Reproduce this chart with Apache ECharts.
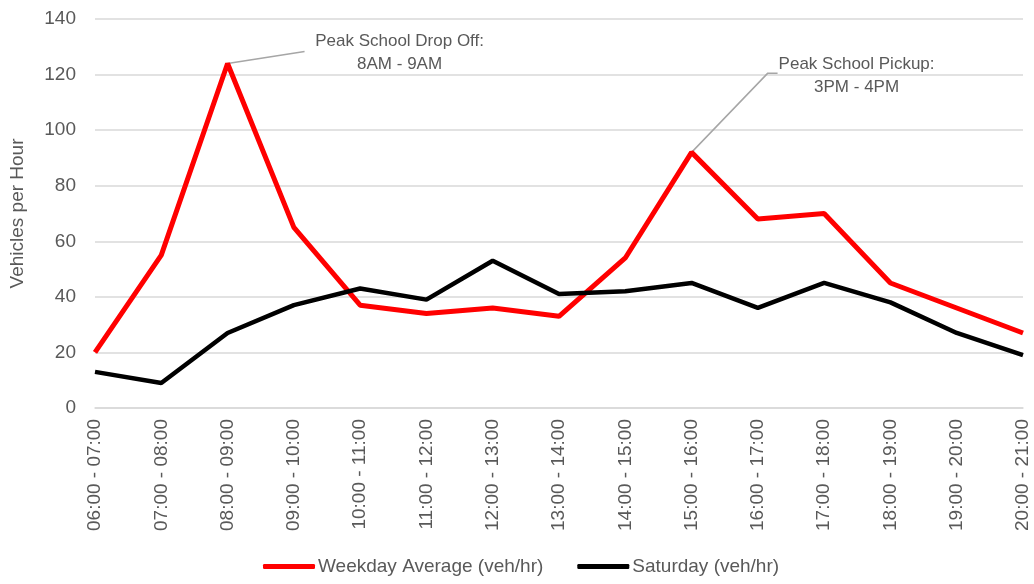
<!DOCTYPE html>
<html>
<head>
<meta charset="utf-8">
<script src="https://cdn.jsdelivr.net/npm/echarts@6/dist/echarts.min.js"></script>
<style>
  html, body { margin: 0; padding: 0; background: #fff; }
  #chart { width: 1034px; height: 584px; }
</style>
</head>
<body>
<div id="chart"></div>
<script>
const hours = [
  "06:00 - 07:00", "07:00 - 08:00", "08:00 - 09:00", "09:00 - 10:00", "10:00 - 11:00",
  "11:00 - 12:00", "12:00 - 13:00", "13:00 - 14:00", "14:00 - 15:00", "15:00 - 16:00",
  "16:00 - 17:00", "17:00 - 18:00", "18:00 - 19:00", "19:00 - 20:00", "20:00 - 21:00"
];
const weekday = [20, 55, 124, 65, 37, 34, 36, 33, 54, 92, 68, 70, 45, 36, 27];
const saturday = [13, 9, 27, 37, 43, 39, 53, 41, 42, 45, 36, 45, 38, 27, 19];
const yTicks = { min: 0, max: 140, step: 20 };

// callouts: which point they hang off, and the text
const callouts = [
  { index: 2, text: "Peak School Drop Off:\n8AM - 9AM" },
  { index: 9, text: "Peak School Pickup:\n3PM - 4PM" }
];

const font = '"Liberation Sans Narrow", "Arial Narrow", "Liberation Sans", sans-serif';
const grey = "#595959";

const chart = echarts.init(document.getElementById("chart"));

chart.setOption({
  animation: false,
  textStyle: { fontFamily: font },
  grid: { left: 92, right: 11, top: 19, bottom: 176 },
  legend: {
    bottom: 3,
    left: 258,
    itemGap: 34,
    itemWidth: 52,
    itemHeight: 5,
    icon: "roundRect",
    textStyle: { color: grey, fontSize: 19, fontFamily: font, padding: [0, 0, 0, -2] },
    data: ["Weekday Average (veh/hr)", "Saturday (veh/hr)"]
  },
  xAxis: {
    type: "category",
    data: hours,
    boundaryGap: false,
    axisLine: { show: true, lineStyle: { color: "#d9d9d9", width: 1.5 } },
    axisTick: { show: false },
    axisLabel: { rotate: 90, color: grey, fontSize: 19, margin: 11, interval: 0 }
  },
  yAxis: {
    type: "value",
    min: yTicks.min,
    max: yTicks.max,
    interval: yTicks.step,
    name: "Vehicles per Hour",
    nameLocation: "middle",
    nameGap: 68,
    nameTextStyle: { color: grey, fontSize: 19 },
    axisLine: { show: false },
    axisTick: { show: false },
    axisLabel: { color: grey, fontSize: 19, margin: 19 },
    splitLine: { lineStyle: { color: "#d9d9d9", width: 1.5 } }
  },
  series: [
    {
      name: "Weekday Average (veh/hr)",
      type: "line",
      data: weekday,
      symbol: "none",
      itemStyle: { color: "#ff0000" },
      lineStyle: { color: "#ff0000", width: 5 }
    },
    {
      name: "Saturday (veh/hr)",
      type: "line",
      data: saturday,
      symbol: "none",
      itemStyle: { color: "#000000" },
      lineStyle: { color: "#000000", width: 4.5 }
    }
  ]
});

// leader lines + callout text, anchored on the red series points
function drawCallouts() {
  const a = chart.convertToPixel({ seriesIndex: 0 }, [callouts[0].index, weekday[callouts[0].index]]);
  const b = chart.convertToPixel({ seriesIndex: 0 }, [callouts[1].index, weekday[callouts[1].index]]);
  const lineStyle = { stroke: "#a6a6a6", lineWidth: 1.5, fill: null };
  const textStyle = { fill: grey, fontSize: 17, fontFamily: font, align: "center", verticalAlign: "middle", lineHeight: 23 };
  chart.setOption({
    graphic: [
      { type: "polyline", shape: { points: [[a[0], a[1]], [a[0] + 77, a[1] - 12]] }, style: lineStyle },
      { type: "text", x: a[0] + 172, y: a[1] - 11, style: Object.assign({ text: callouts[0].text }, textStyle) },
      { type: "polyline", shape: { points: [[b[0], b[1]], [b[0] + 76, b[1] - 79], [b[0] + 86, b[1] - 79]] }, style: lineStyle },
      { type: "text", x: b[0] + 165, y: b[1] - 77, style: Object.assign({ text: callouts[1].text }, textStyle) }
    ]
  });
}
drawCallouts();
</script>
</body>
</html>
